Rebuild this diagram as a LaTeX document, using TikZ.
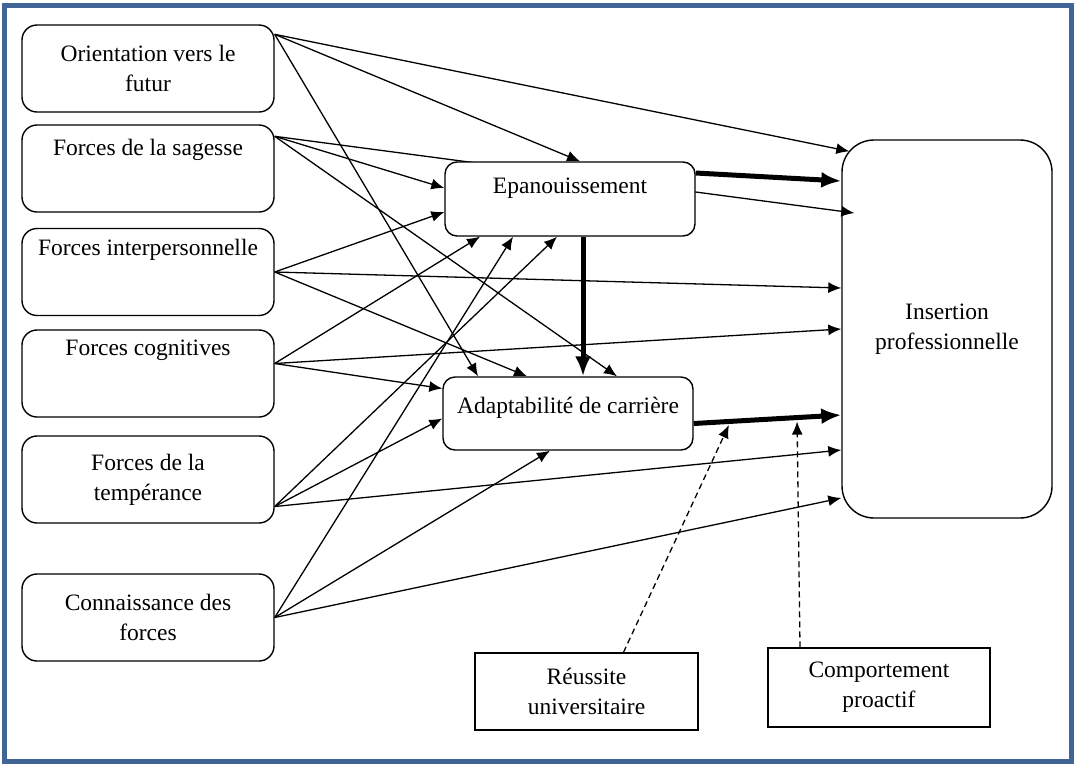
\documentclass[tikz,border=0pt]{standalone}
\usepackage{fontspec}
\setmainfont{Liberation Serif}
\usepackage{xcolor}
\usetikzlibrary{arrows.meta, backgrounds}
\definecolor{cadrebleu}{RGB}{65,100,150}

\begin{document}
\begin{tikzpicture}[x=1pt, y=-1pt, >={Latex[length=13pt,width=11pt]},
    font=\fontsize{23.5}{30}\selectfont,
    boite/.style={draw, line width=1.4pt, fill=white, rounded corners=15pt,
        minimum width=252pt, minimum height=87pt, inner sep=0pt},
    deuxlignes/.style={boite, align=center},
    enhaut/.style 2 args={text height=#1, text depth=#2},
    cadre/.style={draw, line width=1.4pt, fill=white, align=center, inner sep=0pt},
    lien/.style={->, line width=1.3pt},
    fort/.style={-{Latex[length=20pt,width=16pt]}, line width=5pt},
    pointille/.style={->, line width=1.3pt, dash pattern=on 6pt off 4pt, shorten >=4pt}]
    % 1. Cadre
    \useasboundingbox (0,0) rectangle (1075,764);
    \draw[line width=5pt, cadrebleu] (4.5,5.5) rectangle (1071.5,761.5);

    % 2. Les forces
    \node[deuxlignes] (orient) at (148,68.5) {Orientation vers le\\futur};
    \node[boite, enhaut={30pt}{57pt}] (sagesse) at (148,168.5) {Forces de la sagesse};
    \node[boite, enhaut={25pt}{59pt}] (inter) at (148,272) {Forces interpersonnelle};
    \node[boite, enhaut={25pt}{62pt}] (cogn) at (148,373.5) {Forces cognitives};
    \node[deuxlignes] (temp) at (148,479.5) {Forces de la\\tempérance};
    \node[deuxlignes] (conn) at (148,617.5) {Connaissance des\\forces};

    % 3. Mediateurs et variable dependante
    \node[boite, minimum width=250pt, minimum height=74pt, rounded corners=12pt,
        enhaut={31pt}{43pt}] (epan) at (570,199) {Epanouissement};
    \node[boite, minimum width=250pt, minimum height=73pt, rounded corners=12pt,
        enhaut={36pt}{37pt}] (adapt) at (568,413.5) {Adaptabilité de carrière};
    \node[boite, fill=none, minimum width=210pt, minimum height=378pt,
        rounded corners=32pt, align=center] (ins) at (947,329) {Insertion\\professionnelle};

    % 4. Moderateurs
    \node[cadre, minimum width=223pt, minimum height=77pt] (reussite) at (586.5,691.5) {Réussite\\universitaire};
    \node[cadre, minimum width=222pt, minimum height=79pt] (comport) at (879,687.5) {Comportement\\proactif};

    % 5. Liens directs
    \draw[lien] ([yshift=-10pt]orient.north east) -- ([xshift=8pt,yshift=-12pt]ins.north west);
    \draw[lien] ([yshift=-10pt]orient.north east) -- ([xshift=10pt]epan.north);
    \draw[lien] ([yshift=-10pt]orient.north east) -- ([xshift=-90pt]adapt.north);

    \begin{scope}[on background layer]
        \draw[lien] ([yshift=-12pt]sagesse.north east) -- ([xshift=13pt,yshift=116pt]ins.west);
    \end{scope}
    \draw[lien] ([yshift=-12pt]sagesse.north east) -- ([yshift=11pt]epan.west);
    \draw[lien] ([yshift=-12pt]sagesse.north east) -- ([xshift=49pt]adapt.north);

    \draw[lien] (inter.east) -- ([yshift=-13pt]epan.west);
    \draw[lien] (inter.east) -- ([yshift=41pt]ins.west);
    \draw[lien] (inter.east) -- ([xshift=-41pt]adapt.north);

    \draw[lien] ([yshift=10pt]cogn.east) -- ([xshift=-90pt]epan.south);
    \draw[lien] ([yshift=10pt]cogn.east) -- (ins.west);
    \draw[lien] ([yshift=10pt]cogn.east) -- ([yshift=25pt]adapt.west);

    \draw[lien] ([yshift=-27pt]temp.east) -- ([xshift=-13pt]epan.south);
    \draw[lien] ([yshift=-27pt]temp.east) -- ([yshift=-5pt]adapt.west);
    \draw[lien] ([yshift=-27pt]temp.east) -- ([yshift=-121pt]ins.west);

    \draw[lien] (conn.east) -- ([xshift=-57pt]epan.south);
    \draw[lien] (conn.east) -- ([xshift=-18pt]adapt.south);
    \draw[lien] (conn.east) -- ([yshift=-169pt]ins.west);

    % 6. Liens principaux
    \draw[fort] ([yshift=26pt]epan.east) -- ([yshift=148pt]ins.west);
    \draw[fort] ([xshift=13pt]epan.south) -- ([xshift=13pt]epan.south |- adapt.north);
    \draw[fort] ([yshift=-10pt]adapt.east) -- coordinate[pos=0.25] (modr)
        coordinate[pos=0.7] (modc) ([yshift=-86pt]ins.west);

    % 7. Moderation
    \draw[pointille] ([xshift=37pt]reussite.north) -- (modr);
    \draw[pointille] ([xshift=-79pt]comport.north) -- (modc);
\end{tikzpicture}
\end{document}
